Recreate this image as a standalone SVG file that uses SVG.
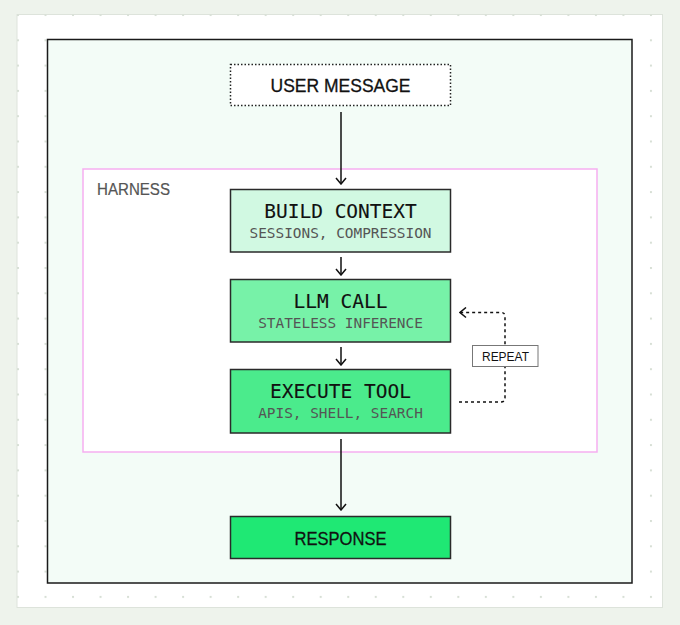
<svg xmlns="http://www.w3.org/2000/svg" width="680" height="625" viewBox="0 0 680 625">
<style>
.node{stroke:#2a2a2a;stroke-width:1.5}
.title{font-family:"DejaVu Sans Mono","Liberation Mono",monospace;font-size:19.5px;fill:#111;text-anchor:middle;stroke:#111;stroke-width:0.1}
.sub{font-family:"DejaVu Sans Mono","Liberation Mono",monospace;font-size:14.4px;fill:#555;text-anchor:middle}
.sans{font-family:"Liberation Sans",Arial,sans-serif;fill:#111;text-anchor:middle;stroke:#111;stroke-width:0.3}
.small{font-family:"Liberation Sans",Arial,sans-serif;fill:#111;text-anchor:middle}
.conn{stroke:#111;stroke-width:1.5;fill:none}
.dot{stroke:#111;stroke-width:1.5;fill:none;stroke-dasharray:3 3}
</style>
<defs>
<pattern id="grid" patternUnits="userSpaceOnUse" x="17" y="14" width="27.52" height="25.3">
<rect x="0" y="0" width="2" height="2" fill="#d7dfd5"/>
</pattern>
<marker id="ah" viewBox="0 0 12 12" refX="11" refY="6" markerWidth="12" markerHeight="12" markerUnits="userSpaceOnUse" orient="auto">
<path d="M5,1 L11,6 L5,11" fill="none" stroke="#111" stroke-width="1.5"/>
</marker>
</defs>
<rect x="0" y="0" width="680" height="625" fill="#eef3ec"/>
<rect x="17" y="14.5" width="645.5" height="593" fill="#ffffff" stroke="#dde3db" stroke-width="1"/>
<rect x="17" y="14.5" width="645.5" height="593" fill="url(#grid)"/>
<g id="frame">
<rect x="47.5" y="39.5" width="584.5" height="543.5" fill="#f3fcf7" stroke="#1a1a1a" stroke-width="1.5"/>
</g>
<g id="harness">
<rect x="83" y="169" width="514" height="283" fill="#ffffff" stroke="#f6aef1" stroke-width="1.5"/>
<text x="97" y="195" font-family="Liberation Sans,Arial,sans-serif" font-size="16" fill="#555" stroke="#555" stroke-width="0.2" textLength="73" lengthAdjust="spacingAndGlyphs">HARNESS</text>
</g>
<g id="connectors">
<line class="conn" x1="341" y1="112" x2="341" y2="184" marker-end="url(#ah)"/>
<line class="conn" x1="341" y1="257" x2="341" y2="275" marker-end="url(#ah)"/>
<line class="conn" x1="341" y1="347" x2="341" y2="365" marker-end="url(#ah)"/>
<line class="conn" x1="341" y1="439" x2="341" y2="510" marker-end="url(#ah)"/>
<path class="dot" d="M459,402 L501,402 Q505,402 505,398 L505,316.5 Q505,312.5 501,312.5 L460,312.5" marker-end="url(#ah)"/>
</g>
<g id="repeat">
<rect x="472.5" y="345.5" width="65.5" height="21" fill="#ffffff" stroke="#777" stroke-width="1"/>
<text class="small" x="505.5" y="361" font-size="12.5" textLength="47" lengthAdjust="spacingAndGlyphs">REPEAT</text>
</g>
<g id="user-message">
<rect x="230.5" y="64.5" width="220" height="41" fill="#ffffff" stroke="#222" stroke-width="1.5" stroke-dasharray="1.5 2"/>
<text class="sans" x="340.5" y="92" font-size="18" textLength="140" lengthAdjust="spacingAndGlyphs">USER MESSAGE</text>
</g>
<g id="build-context">
<rect class="node" x="230.5" y="189.5" width="220" height="62.5" fill="#d1f9e2"/>
<text class="title" x="340.5" y="217.5">BUILD CONTEXT</text>
<text class="sub" x="340.5" y="237.5">SESSIONS, COMPRESSION</text>
</g>
<g id="llm-call">
<rect class="node" x="230.5" y="279.5" width="220" height="62.5" fill="#77f2a8"/>
<text class="title" x="340.5" y="307.5">LLM CALL</text>
<text class="sub" x="340.5" y="327.5">STATELESS INFERENCE</text>
</g>
<g id="execute-tool">
<rect class="node" x="230.5" y="369.5" width="220" height="63.5" fill="#4beb8c"/>
<text class="title" x="340.5" y="398">EXECUTE TOOL</text>
<text class="sub" x="340.5" y="417.5">APIS, SHELL, SEARCH</text>
</g>
<g id="response">
<rect class="node" x="230.5" y="516.5" width="220" height="42" fill="#1fe874"/>
<text class="sans" x="340.5" y="545" font-size="18.5" textLength="92" lengthAdjust="spacingAndGlyphs">RESPONSE</text>
</g>
</svg>
